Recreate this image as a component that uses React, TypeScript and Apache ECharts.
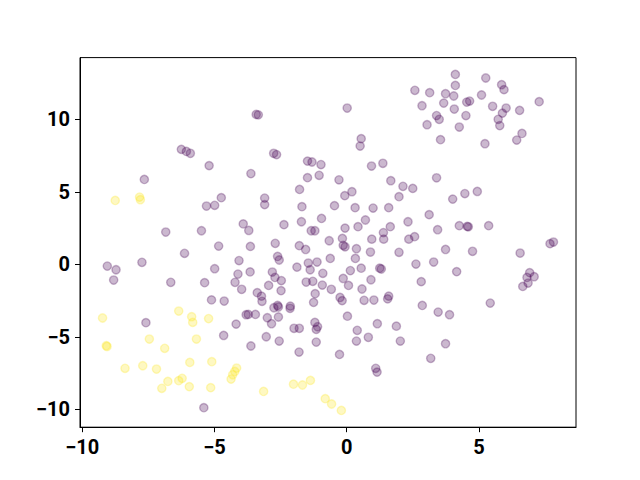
import React, { useEffect, useRef } from "react";
import * as echarts from "echarts";

// class 0 (purple) points
const purpleX = [
  -6.25, -6.06, -5.91, -5.20, -7.65, -3.62, 2.58, -3.42, -3.34, 0.02,
  0.55, 0.51, -2.76, -2.65, -1.48, -1.31, -0.97, 0.94, 1.37, -1.48,
  -1.04, -0.29, 1.67, 4.11, 5.26, 5.86, 5.95, 3.14, 3.74, 4.05,
  4.11, 5.10, 7.28, 2.85, 3.67, 4.54, 4.65, 4.07, 5.52, 6.03,
  6.54, 3.40, 3.50, 4.51, 5.89, 5.73, 5.79, 3.04, 4.26, 3.55,
  5.23, 6.43, 6.63, 3.40, -4.74, -5.30, -4.99, -3.91, -3.70, -6.84,
  -5.49, -4.84, -3.64, -6.13, -9.05, -8.72, -8.81, -7.74, -4.07, -4.99,
  -3.65, -4.11, -4.22, -3.97, -6.65, -5.37, -5.11, -4.63, 2.13, 2.50,
  -1.78, 0.20, -0.07, -3.10, -3.10, 1.98, -1.69, -0.46, 0.32, 1.00,
  1.59, -0.95, -2.37, -1.71, 0.71, 2.32, -1.34, -1.20, -0.06, 0.43,
  1.65, 1.39, 1.40, 0.95, -0.16, -0.66, 2.57, 2.35, -2.70, -1.79,
  -1.55, -0.13, -0.06, 0.37, 0.90, 1.98, -2.61, -2.55, -0.62, 0.33,
  -1.88, -1.45, -1.12, -1.38, 0.55, 0.14, 1.25, 1.31, 2.62, -2.81,
  -2.71, -2.47, -2.95, -0.90, -0.13, 0.07, 0.92, -1.53, -1.28, -0.92,
  -2.48, -3.38, -3.22, -3.20, -1.19, -0.58, 0.58, -1.25, -0.25, -0.17,
  0.66, 1.03, 1.59, 1.55, -2.61, -2.13, 4.01, 4.47, 4.94, 3.12,
  3.44, 4.26, 4.56, 4.60, 5.37, 3.74, 4.76, 7.69, 7.82, 6.56,
  3.29, 4.16, 2.82, 6.92, 7.09, 6.82, 6.86, 6.66, 2.86, 5.43,
  -7.59, -3.80, -3.72, -4.18, -4.65, -3.62, -5.40, -2.75, -2.58, -2.14,
  -3.45, -3.00, -2.58, -2.84, 0.03, -1.99, -1.79, -1.20, -1.10, -1.15,
  1.16, 1.88, 0.40, -3.04, -2.55, -1.15, 0.37, 0.82, 2.03, -1.80,
  -0.27, 1.10, 1.15, 3.46, 3.89, 3.74, 3.18,
];
const purpleY = [
  7.93, 7.79, 7.66, 6.81, 5.86, 6.26, 12.00, 10.34, 10.31, 10.78,
  8.67, 8.16, 7.66, 7.57, 7.12, 7.06, 6.88, 6.78, 6.97, 5.98,
  6.14, 5.83, 5.77, 13.10, 12.85, 12.39, 12.05, 11.84, 11.77, 11.61,
  12.34, 11.68, 11.22, 10.94, 11.12, 11.19, 11.26, 10.71, 10.90, 10.78,
  10.62, 10.26, 10.00, 10.26, 10.43, 10.00, 9.57, 9.63, 9.47, 8.60,
  8.32, 8.57, 9.03, 5.97, 4.60, 4.02, 4.07, 2.79, 2.34, 2.23,
  2.32, 1.26, 1.24, 0.76, -0.12, -0.37, -1.08, 0.14, 0.26, -0.30,
  -0.52, -0.67, -1.24, -1.72, -1.24, -1.26, -2.45, -2.53, 5.38, 5.24,
  5.17, 5.01, 4.74, 4.57, 4.12, 4.67, 3.98, 4.05, 3.91, 3.88,
  3.91, 3.17, 2.74, 2.94, 3.06, 2.94, 2.32, 2.32, 2.50, 2.60,
  2.60, 2.19, 1.74, 1.74, 1.79, 1.63, 1.91, 1.74, 1.45, 1.29,
  1.03, 1.31, 1.21, 1.08, 0.85, 0.83, 0.55, 0.30, 0.41, 0.41,
  -0.19, 0.09, 0.16, -0.37, -0.26, -0.43, -0.26, -0.32, 0.02, -0.53,
  -0.90, -1.12, -1.45, -0.62, -0.97, -1.45, -1.06, -1.22, -1.17, -1.43,
  -1.81, -1.95, -2.19, -2.55, -2.02, -1.72, -1.70, -2.62, -2.28, -2.50,
  -2.48, -2.46, -2.19, -2.38, -2.83, -2.88, 4.50, 4.88, 5.03, 3.43,
  2.39, 2.67, 2.62, 2.59, 2.67, 1.03, 0.90, 1.43, 1.54, 0.78,
  0.16, -0.50, -1.19, -0.57, -0.85, -0.90, -1.29, -1.52, -2.83, -2.67,
  -4.02, -3.47, -3.45, -4.12, -4.90, -5.63, -9.88, -2.99, -2.94, -3.03,
  -3.45, -3.68, -3.63, -4.09, -3.57, -4.41, -4.41, -4.00, -4.30, -4.48,
  -4.09, -4.26, -4.55, -4.99, -5.29, -5.36, -5.29, -5.03, -5.29, -6.05,
  -6.21, -7.17, -7.43, -3.29, -3.47, -5.47, -6.48,
];

// class 1 (yellow) points
const yellowX = [
  -8.75, -7.83, -7.80, -9.23, -6.35, -5.86, -5.82, -5.22, -9.09, -9.06,
  -7.46, -6.88, -5.68, -8.38, -7.71, -7.19, -5.93, -5.10, -4.16, -4.23,
  -4.31, -4.37, -6.76, -6.35, -6.22, -6.99, -5.95, -5.14, -3.14, -2.01,
  -1.67, -1.37, -0.81, -0.57, -0.20,
];
const yellowY = [
  4.41, 4.64, 4.46, -3.70, -3.22, -3.61, -4.00, -3.74, -5.61, -5.66,
  -5.15, -5.79, -5.15, -7.17, -6.99, -7.22, -6.76, -6.71, -7.15, -7.38,
  -7.61, -7.91, -8.07, -8.02, -7.86, -8.55, -8.43, -8.50, -8.76, -8.26,
  -8.32, -8.00, -9.26, -9.63, -10.07,
];

const xTicks = [-10, -5, 0, 5];
const yTicks = [-10, -5, 0, 5, 10];

const PURPLE = "rgba(68,1,84,0.35)";
const YELLOW = "rgba(253,231,37,0.35)";

function zip(xs: number[], ys: number[]) {
  return xs.map((x, i) => [x, ys[i]]);
}

export default function App() {
  const ref = useRef<HTMLDivElement>(null);
  useEffect(() => {
    if (!ref.current) return;
    const chart = echarts.init(ref.current, null, { renderer: "svg" });
    const allX = [...purpleX, ...yellowX];
    const allY = [...purpleY, ...yellowY];
    const xmn = Math.min(...allX), xmx = Math.max(...allX);
    const ymn = Math.min(...allY), ymx = Math.max(...allY);
    const xr = xmx - xmn, yr = ymx - ymn;
    const fmt = (v: number) => String(v).replace("-", "\u2212");
    const labelStyle = {
      fontFamily: "Roboto",
      fontWeight: "bold" as const,
      fontSize: 20,
      color: "#000",
      margin: 10,
      formatter: fmt,
    };
    const tickStyle = { length: 5, inside: false, lineStyle: { color: "#000", width: 1 } };
    chart.setOption({
      animation: false,
      backgroundColor: "#fff",
      grid: {
        left: 80,
        right: 64,
        top: 57.6,
        bottom: 52.8,
        show: true,
        borderColor: "#000",
        borderWidth: 1,
        containLabel: false,
      },
      xAxis: {
        type: "value",
        min: xmn - 0.05 * xr,
        max: xmx + 0.05 * xr,
        splitLine: { show: false },
        axisLine: { show: true, onZero: false, lineStyle: { color: "#000", width: 1 } },
        axisTick: { ...tickStyle, customValues: xTicks },
        axisLabel: { ...labelStyle, customValues: xTicks },
      },
      yAxis: {
        type: "value",
        min: ymn - 0.05 * yr,
        max: ymx + 0.05 * yr,
        splitLine: { show: false },
        axisLine: { show: true, onZero: false, lineStyle: { color: "#000", width: 1 } },
        axisTick: { ...tickStyle, customValues: yTicks },
        axisLabel: { ...labelStyle, customValues: yTicks },
      },
      series: [
        {
          type: "scatter",
          data: zip(purpleX, purpleY),
          symbol: "circle",
          symbolSize: 8.3,
          itemStyle: { color: PURPLE, borderColor: PURPLE, borderWidth: 1.4 },
        },
        {
          type: "scatter",
          data: zip(yellowX, yellowY),
          symbol: "circle",
          symbolSize: 8.3,
          itemStyle: { color: YELLOW, borderColor: YELLOW, borderWidth: 1.4 },
        },
      ],
    });
    return () => chart.dispose();
  }, []);
  return <div ref={ref} style={{ width: 640, height: 480, position: "absolute", left: 0, top: 0 }} />;
}
